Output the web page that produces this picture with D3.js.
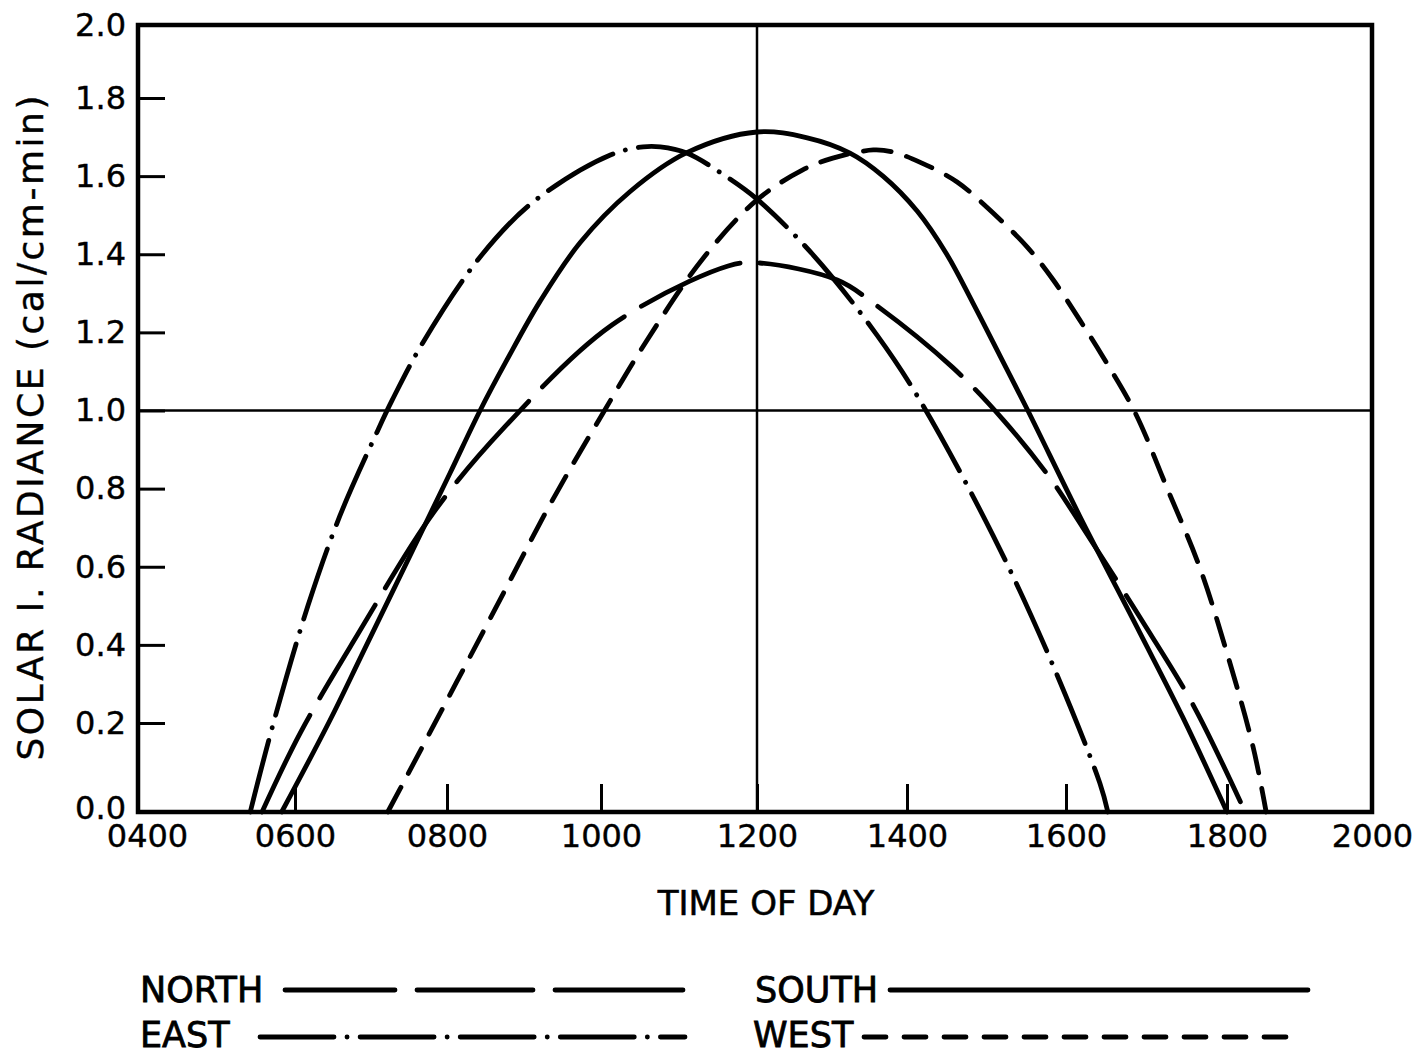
<!DOCTYPE html>
<html>
<head>
<meta charset="utf-8">
<script src="https://cdn.jsdelivr.net/npm/d3@7"></script>
<style>
  html, body { margin: 0; padding: 0; background: #fff; }
  svg { display: block; }
  text { font-family: "DejaVu Sans", sans-serif; fill: #000; }
</style>
</head>
<body>
<svg id="chart" width="1420" height="1056"></svg>
<script>
// ---- data (time of day in decimal hours, radiance in cal/cm²-min) ----
const northHours  = [5.58, 6.07, 6.82, 7.82, 8.75, 10.14, 11.63, 12.00, 13.07, 13.55, 14.57, 15.21, 15.80, 16.21, 16.92, 17.58, 18.25];
const northValues = [0.00, 0.178, 0.425, 0.738, 0.958, 1.219, 1.370, 1.378, 1.334, 1.275, 1.111, 0.976, 0.827, 0.70, 0.47, 0.246, 0.0];

const southHours  = [5.83, 6.46, 6.89, 7.55, 8.04, 8.43, 8.78, 9.21, 9.73, 10.37, 11.10, 12.00, 12.67, 13.24, 13.68, 14.13, 14.50, 14.83, 15.17, 15.52, 16.17, 16.92, 17.45, 18.00];
const southValues = [0.00, 0.207, 0.379, 0.643, 0.84, 1.0, 1.13, 1.28, 1.43, 1.56, 1.66, 1.713, 1.698, 1.659, 1.60, 1.51, 1.40, 1.275, 1.14, 1.0, 0.73, 0.43, 0.215, 0.0];

const eastHours  = [5.43, 5.71, 6.17, 6.59, 7.08, 7.28, 7.68, 8.43, 9.12, 10.12, 10.54, 10.76, 11.10, 11.65, 12.00, 12.75, 13.60, 14.16, 15.08, 15.77, 16.42, 16.52];
const eastValues = [0.00, 0.19, 0.50, 0.73, 0.945, 1.027, 1.173, 1.393, 1.534, 1.654, 1.675, 1.675, 1.659, 1.593, 1.541, 1.398, 1.193, 1.027, 0.681, 0.379, 0.065, 0.0];

const westHours  = [7.22, 7.47, 7.95, 8.30, 8.78, 9.34, 10.03, 10.59, 11.31, 12.00, 12.61, 13.01, 13.55, 13.81, 14.16, 14.63, 15.08, 15.51, 15.84, 16.17, 16.46, 16.86, 17.25, 17.66, 18.00, 18.36, 18.54];
const westValues = [0.00, 0.08, 0.24, 0.37, 0.55, 0.76, 0.995, 1.18, 1.39, 1.539, 1.616, 1.646, 1.667, 1.662, 1.636, 1.585, 1.506, 1.419, 1.334, 1.232, 1.137, 0.994, 0.804, 0.599, 0.379, 0.146, 0.0];

const xTickValues = [4, 6, 8, 10, 12, 14, 16, 18, 20];
const xTickLabels = ["0400", "0600", "0800", "1000", "1200", "1400", "1600", "1800", "2000"];
const yTickValues = [0, 0.2, 0.4, 0.6, 0.8, 1.0, 1.2, 1.4, 1.6, 1.8, 2.0];
const yTickLabels = ["0.0", "0.2", "0.4", "0.6", "0.8", "1.0", "1.2", "1.4", "1.6", "1.8", "2.0"];

const seriesNames = ["NORTH", "SOUTH", "EAST", "WEST"];

// ---- chart ----
const svg = d3.select("#chart");
svg.append("rect").attr("width", 1420).attr("height", 1056).attr("fill", "#fff");

// hand-drawn axis: tick spacing is slightly uneven, so map through every tick
const x = d3.scaleLinear().domain(xTickValues)
  .range([138, 295, 447, 601, 757, 907, 1066, 1227, 1372]);
const y = d3.scaleLinear().domain([0, 0.2, 1.8, 2.0]).range([812, 723, 98, 25]);

// axes
const xAxis = d3.axisBottom(x).tickValues(xTickValues)
  .tickFormat((d, i) => xTickLabels[i]).tickSize(-28).tickPadding(12);
const gx = svg.append("g").attr("transform", `translate(0,${y(0)})`).call(xAxis);
gx.select(".domain").remove();
gx.selectAll(".tick line").attr("stroke", "#000").attr("stroke-width", 3);
gx.selectAll(".tick text").attr("font-size", 32).attr("font-family", "DejaVu Sans")
  .attr("fill", "#000").attr("stroke", "#000").attr("stroke-width", 0.4);
gx.selectAll(".tick").filter(d => d === 4).select("text").attr("dx", 9);

const yAxis = d3.axisLeft(y).tickValues(yTickValues)
  .tickFormat((d, i) => yTickLabels[i]).tickSize(-27).tickPadding(12);
const gy = svg.append("g").attr("transform", `translate(${x(4)},0)`).call(yAxis);
gy.select(".domain").remove();
gy.selectAll(".tick line").attr("stroke", "#000").attr("stroke-width", 3);
gy.selectAll(".tick text").attr("font-size", 32).attr("font-family", "DejaVu Sans")
  .attr("fill", "#000").attr("stroke", "#000").attr("stroke-width", 0.4);
gy.selectAll(".tick").filter(d => d === 0).select("text").attr("y", -4);

// reference lines at 1200 and 1.0
svg.append("line").attr("x1", x(12)).attr("x2", x(12)).attr("y1", y(2)).attr("y2", y(0))
  .attr("stroke", "#000").attr("stroke-width", 2.5);
svg.append("line").attr("x1", x(4)).attr("x2", x(20)).attr("y1", y(1)).attr("y2", y(1))
  .attr("stroke", "#000").attr("stroke-width", 2.5);

// frame
svg.append("rect").attr("x", x(4)).attr("y", y(2))
  .attr("width", x(20) - x(4)).attr("height", y(0) - y(2))
  .attr("fill", "none").attr("stroke", "#000").attr("stroke-width", 4.5);

// curves
const line = d3.line().x(d => x(d[0])).y(d => y(d[1])).curve(d3.curveCatmullRom.alpha(0.5));
const series = [
  { name: "NORTH", hours: northHours, values: northValues, dash: "108,20" },
  { name: "SOUTH", hours: southHours, values: southValues, dash: null },
  { name: "EAST",  hours: eastHours,  values: eastValues,  dash: "74,13,0.1,13" },
  { name: "WEST",  hours: westHours,  values: westValues,  dash: "28,16" }
];
series.forEach(s => {
  const pts = s.hours.map((h, i) => [h, s.values[i]]);
  svg.append("path").datum(pts).attr("d", line)
    .attr("fill", "none").attr("stroke", "#000").attr("stroke-width", 4.8)
    .attr("stroke-linecap", "round")
    .attr("stroke-dasharray", s.dash);
});

// axis titles
svg.append("text").attr("x", 766).attr("y", 915).attr("text-anchor", "middle")
  .attr("font-size", 34).attr("stroke", "#000").attr("stroke-width", 0.6)
  .text("TIME OF DAY");
svg.append("text").attr("transform", "translate(43,428) rotate(-90)")
  .attr("text-anchor", "middle").attr("font-size", 36)
  .attr("stroke", "#000").attr("stroke-width", 0.4)
  .attr("textLength", 665).attr("lengthAdjust", "spacing")
  .text("SOLAR I.  RADIANCE  (cal/cm-min)");

// legend
const legendPos = {
  NORTH: { tx: 140, ty: 1002, x1: 285, x2: 683, ly: 990 },
  EAST:  { tx: 140, ty: 1047, x1: 260, x2: 685, ly: 1037 },
  SOUTH: { tx: 755, ty: 1002, x1: 890, x2: 1308, ly: 990 },
  WEST:  { tx: 753, ty: 1047, x1: 864, x2: 1287, ly: 1037 }
};
const legendDash = { NORTH: "110,22,116,22,200", SOUTH: null, EAST: "74,13,0.1,13", WEST: "22,18" };
seriesNames.forEach(n => {
  const p = legendPos[n];
  svg.append("text").attr("x", p.tx).attr("y", p.ty).attr("font-size", 35)
    .attr("stroke", "#000").attr("stroke-width", 0.8).text(n);
  svg.append("line").attr("x1", p.x1).attr("x2", p.x2).attr("y1", p.ly).attr("y2", p.ly)
    .attr("stroke", "#000").attr("stroke-width", 4.8).attr("stroke-linecap", "round")
    .attr("stroke-dasharray", legendDash[n]);
});
</script>
</body>
</html>
